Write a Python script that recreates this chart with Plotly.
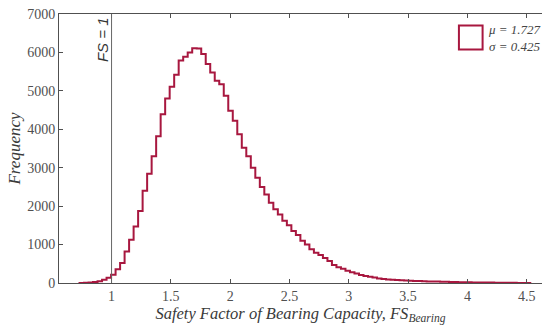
import plotly.graph_objects as go

# Histogram of the safety factor (stairs outline), 100 bins
BIN_START = 0.73
BIN_END = 4.53
counts = [3, 8, 15, 28, 48, 85, 135, 215, 360, 520,
          820, 1125, 1470, 1875, 2400, 2840, 3300, 3820, 4390, 4800,
          5110, 5420, 5790, 5890, 6000, 6110, 6105, 5960, 5700, 5480,
          5260, 5170, 4870, 4480, 4220, 3870, 3520, 3300, 3000, 2740,
          2500, 2300, 2090, 1920, 1780, 1620, 1500, 1350, 1250, 1100,
          1000, 880, 790, 730, 650, 570, 470, 410, 370, 320,
          280, 250, 210, 185, 160, 140, 120, 102, 92, 85,
          78, 72, 66, 60, 55, 50, 45, 42, 39, 36,
          33, 30, 27, 25, 22, 20, 18, 16, 14, 12,
          11, 10, 8, 7, 6, 5, 4, 3, 3, 2]
x_ticks = [1, 1.5, 2, 2.5, 3, 3.5, 4, 4.5]
x_tick_labels = ["1", "1.5", "2", "2.5", "3", "3.5", "4", "4.5"]
y_ticks = [0, 1000, 2000, 3000, 4000, 5000, 6000, 7000]
mu_text = "μ = 1.727"
sigma_text = "σ = 0.425"
fs_line = 1.0

n = len(counts)
w = (BIN_END - BIN_START) / n
edges = [BIN_START + i * w for i in range(n + 1)]

xs = [edges[0]] + edges + [edges[-1]]
ys = [0] + counts + [counts[-1]] + [0]

CRIMSON = "#a8173f"
AXIS = "#505050"
SERIF = "Liberation Serif"

fig = go.Figure()
fig.add_trace(go.Scatter(x=xs, y=ys, mode="lines", line=dict(color=CRIMSON, width=2, shape="hv"),
                         showlegend=False, hoverinfo="skip"))

# FS = 1 reference line
fig.add_shape(type="line", xref="x", yref="paper", x0=fs_line, x1=fs_line, y0=0, y1=1,
              line=dict(color="#666666", width=1))
fig.add_annotation(x=fs_line, xref="x", y=0.905, yref="paper", text="<i>FS = 1</i>",
                   textangle=-90, showarrow=False, xshift=-9, yanchor="middle",
                   font=dict(family="Liberation Sans", size=15, color="#333333"))

# legend (manual)
fig.add_shape(type="rect", xref="paper", yref="paper", x0=0.828, x1=0.877, y0=0.868, y1=0.957,
              line=dict(color=CRIMSON, width=2), fillcolor="white")
fig.add_annotation(x=0.885, xref="paper", y=0.912, yref="paper",
                   text="<i>" + mu_text + "</i><br><i>" + sigma_text + "</i>",
                   showarrow=False, xanchor="left", yanchor="middle", align="left",
                   font=dict(family=SERIF, size=13, color="#444444"))

fig.update_layout(
    width=542, height=330,
    margin=dict(l=59, r=0, t=14, b=47),
    paper_bgcolor="white", plot_bgcolor="white",
    showlegend=False,
    xaxis=dict(range=[0.557, 4.629], tickvals=x_ticks, ticktext=x_tick_labels,
               showline=True, linecolor=AXIS, linewidth=1, mirror="ticks",
               ticks="inside", ticklen=4, tickcolor=AXIS, showgrid=False, zeroline=False,
               tickfont=dict(family=SERIF, size=14, color=AXIS),
               title=dict(text="<i>Safety Factor of Bearing Capacity, FS<sub>Bearing</sub></i>",
                          font=dict(family=SERIF, size=16.5, color="#3a3a3a"), standoff=2)),
    yaxis=dict(range=[0, 7000], tickvals=y_ticks,
               showline=True, linecolor=AXIS, linewidth=1, mirror=False,
               ticks="inside", ticklen=4, tickcolor=AXIS, showgrid=False, zeroline=False,
               tickfont=dict(family=SERIF, size=14, color=AXIS),
               title=dict(text="<i>Frequency</i>",
                          font=dict(family=SERIF, size=17, color="#3a3a3a"), standoff=2)),
)

fig.write_html("out.html")
